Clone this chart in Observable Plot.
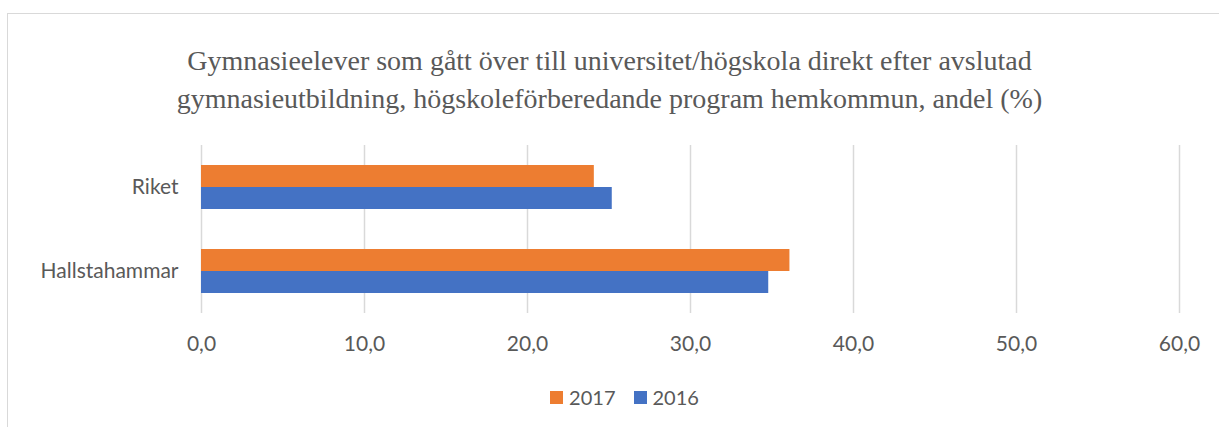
<!DOCTYPE html>
<html>
<head>
<meta charset="utf-8">
<script src="https://cdn.jsdelivr.net/npm/d3@7"></script>
<script src="https://cdn.jsdelivr.net/npm/@observablehq/plot@0.6"></script>
<style>
  html, body { margin: 0; padding: 0; background: #fff; }
  #wrap { position: relative; width: 1219px; height: 427px; overflow: hidden; }
  #border { position: absolute; left: 7px; top: 13px; width: 1300px; height: 500px; border: 1.5px solid #d9d9d9; box-sizing: border-box; }
  #title { position: absolute; left: 0; width: 1219px; top: 42px; text-align: center; font-family: "Liberation Serif", "Times New Roman", serif; font-size: 28px; line-height: 38px; color: #595959; }
  #chart { position: absolute; left: 0; top: 130px; }
  #legend { position: absolute; left: 0; width: 1249px; top: 384px; display: flex; justify-content: center; gap: 18px; font-family: Lato, "Open Sans", sans-serif; font-size: 20px; line-height: 26px; color: #595959; }
  #legend span.item { display: flex; align-items: center; gap: 6px; }
  #legend span.sw { display: inline-block; width: 13px; height: 13px; }
</style>
</head>
<body>
<div id="wrap">
  <div id="border"></div>
  <div id="title">Gymnasieelever som gått över till universitet/högskola direkt efter avslutad<br>gymnasieutbildning, högskoleförberedande program hemkommun, andel (%)</div>
  <div id="chart"></div>
  <div id="legend"></div>
</div>
<script>
const categories = ["Riket", "Hallstahammar"];
const years = ["2017", "2016"];
const values2017 = [24.1, 36.1];
const values2016 = [25.2, 34.8];
const xTicks = [0, 10, 20, 30, 40, 50, 60];
const colors = ["#ED7D31", "#4472C4"];

const data = [];
categories.forEach((c, i) => {
  data.push({category: c, year: "2017", value: values2017[i]});
  data.push({category: c, year: "2016", value: values2016[i]});
});

const fmt = d => d.toFixed(1).replace(".", ",");

const chart = Plot.plot({
  width: 1219,
  height: 230,
  marginTop: 15,
  marginBottom: 47,
  marginLeft: 201,
  marginRight: 30,
  style: { fontFamily: "Lato, 'Open Sans', sans-serif", fontSize: "21px", color: "#595959", background: "transparent", overflow: "visible" },
  x: { domain: [0, 60], ticks: xTicks, tickFormat: fmt, label: null, range: [201, 1179] },
  fy: { domain: categories, padding: 0, label: null },
  y: { domain: years, paddingInner: 0, paddingOuter: 0.909, axis: null },
  color: { domain: years, range: colors },
  facet: { data: data, y: "category" },
  marks: [
    Plot.gridX(xTicks, { stroke: "#d9d9d9", strokeOpacity: 1, strokeWidth: 1.5 }),
    Plot.barX(data, { x: "value", y: "year", fill: "year", fy: "category" }),
    Plot.axisX(xTicks, { tickSize: 0, tickPadding: 23, tickFormat: fmt, fontSize: 21, fill: "#595959", label: null }),
    Plot.axisFy({ anchor: "left", tickSize: 0, tickPadding: 23, fontSize: 21, fill: "#595959", label: null })
  ]
});
document.getElementById("chart").appendChild(chart);

const legend = document.getElementById("legend");
years.forEach((y, i) => {
  const item = document.createElement("span");
  item.className = "item";
  const sw = document.createElement("span");
  sw.className = "sw";
  sw.style.background = colors[i];
  item.appendChild(sw);
  item.appendChild(document.createTextNode(y));
  legend.appendChild(item);
});
</script>
</body>
</html>
